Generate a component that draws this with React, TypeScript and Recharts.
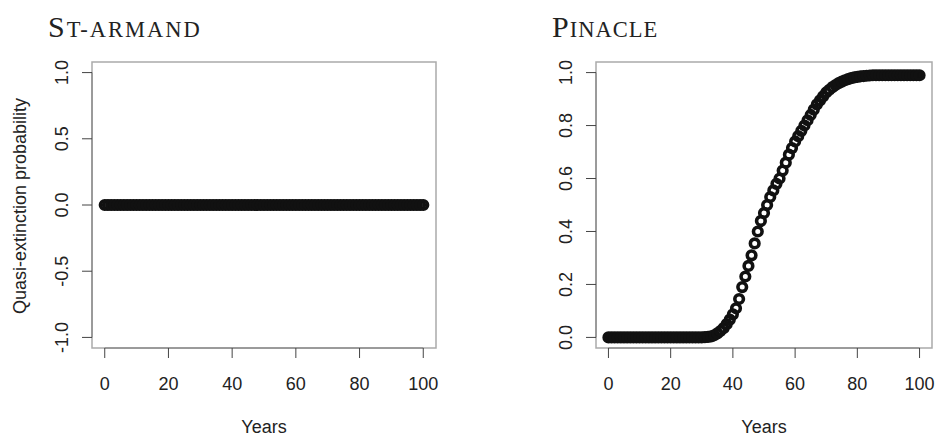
import React from "react";
import {
  ScatterChart,
  Scatter,
  XAxis,
  YAxis,
  ReferenceArea,
  ReferenceLine,
} from "recharts";

// years 0..100 (one point per year)
const years: number[] = Array.from({ length: 101 }, (_, i) => i);

const xTicks = [0, 20, 40, 60, 80, 100];
const stArmandTicks = [-1, -0.5, 0, 0.5, 1];
const pinacleTicks = [0, 0.2, 0.4, 0.6, 0.8, 1];

// St-Armand: flat at zero for the whole run
const stArmand = [
  0, 0, 0, 0, 0, 0, 0, 0, 0, 0,
  0, 0, 0, 0, 0, 0, 0, 0, 0, 0,
  0, 0, 0, 0, 0, 0, 0, 0, 0, 0,
  0, 0, 0, 0, 0, 0, 0, 0, 0, 0,
  0, 0, 0, 0, 0, 0, 0, 0, 0, 0,
  0, 0, 0, 0, 0, 0, 0, 0, 0, 0,
  0, 0, 0, 0, 0, 0, 0, 0, 0, 0,
  0, 0, 0, 0, 0, 0, 0, 0, 0, 0,
  0, 0, 0, 0, 0, 0, 0, 0, 0, 0,
  0, 0, 0, 0, 0, 0, 0, 0, 0, 0,
  0,
];

// Pinacle
const pinacle = [
  0, 0, 0, 0, 0, 0, 0, 0, 0, 0,
  0, 0, 0, 0, 0, 0, 0, 0, 0, 0,
  0, 0, 0, 0, 0, 0, 0, 0, 0, 0,
  0, 0.001, 0.002, 0.004, 0.008, 0.015, 0.024, 0.035, 0.05, 0.067,
  0.087, 0.11, 0.145, 0.19, 0.23, 0.27, 0.31, 0.355, 0.4, 0.44,
  0.47, 0.5, 0.53, 0.555, 0.58, 0.6, 0.63, 0.66, 0.69, 0.715,
  0.74, 0.76, 0.78, 0.8, 0.82, 0.84, 0.86, 0.88, 0.895, 0.91,
  0.925, 0.935, 0.945, 0.953, 0.96, 0.966, 0.971, 0.975, 0.979, 0.982,
  0.984, 0.986, 0.987, 0.988, 0.989, 0.99, 0.99, 0.99, 0.99, 0.99,
  0.99, 0.99, 0.99, 0.99, 0.99, 0.99, 0.99, 0.99, 0.99, 0.99,
  0.99,
];

const SANS = "'Liberation Sans', Arial, Helvetica, sans-serif";
const SERIF = "'Liberation Serif', 'Times New Roman', serif";

// thick open circle, like R's pch=1 with a heavy lwd
const Ring = (p: any) => (
  <circle cx={p.cx} cy={p.cy} r={4.3} fill="none" stroke="#111" strokeWidth={3.6} />
);

const RotTick = (props: any) => {
  const { x, y, payload } = props;
  return (
    <text
      x={x}
      y={y}
      transform={`rotate(-90 ${x} ${y})`}
      textAnchor="middle"
      fontSize={18}
      fill="#222"
      fontFamily={SANS}
    >
      {Number(payload.value).toFixed(1)}
    </text>
  );
};

function Panel({
  values,
  yTicks,
  yDomain,
  yAxisWidth,
  width,
  rightMargin,
}: {
  values: number[];
  yTicks: number[];
  yDomain: [number, number];
  yAxisWidth: number;
  width: number;
  rightMargin: number;
}) {
  const data = years.map((x, i) => ({ x, y: values[i] }));
  return (
    <ScatterChart
      width={width}
      height={436}
      margin={{ top: 62, right: rightMargin, bottom: 0, left: 0 }}
    >
      <XAxis
        type="number"
        dataKey="x"
        domain={[-4, 104]}
        ticks={xTicks}
        allowDataOverflow
        axisLine={false}
        tickSize={10}
        tickMargin={19}
        height={88}
        tickLine={{ stroke: "#444" }}
        tick={{ fontSize: 18, fill: "#222", fontFamily: SANS }}
      />
      <YAxis
        type="number"
        dataKey="y"
        domain={yDomain}
        ticks={yTicks}
        allowDataOverflow
        axisLine={false}
        width={yAxisWidth}
        tickSize={10}
        tickMargin={14}
        tickLine={{ stroke: "#444" }}
        tick={<RotTick />}
      />
      <ReferenceArea
        x1={-4}
        x2={104}
        y1={yDomain[0]}
        y2={yDomain[1]}
        fill="none"
        stroke="#aaa"
        strokeWidth={1.5}
      />
      <ReferenceLine
        segment={[
          { x: 0, y: yDomain[0] },
          { x: 100, y: yDomain[0] },
        ]}
        stroke="#777"
        ifOverflow="visible"
      />
      <ReferenceLine
        segment={[
          { x: -4, y: yTicks[0] },
          { x: -4, y: yTicks[yTicks.length - 1] },
        ]}
        stroke="#777"
        ifOverflow="visible"
      />
      <Scatter data={data} shape={<Ring />} isAnimationActive={false} />
    </ScatterChart>
  );
}

export default function App() {
  return (
    <div
      style={{
        position: "absolute",
        left: 0,
        top: 0,
        width: 941,
        height: 436,
        background: "#fff",
        fontFamily: SANS,
      }}
    >
      <div style={{ position: "absolute", left: 0, top: 0 }}>
        <Panel
          values={stArmand}
          yTicks={stArmandTicks}
          yDomain={[-1.08, 1.08]}
          yAxisWidth={92}
          width={470}
          rightMargin={34}
        />
      </div>
      <div style={{ position: "absolute", left: 470, top: 0 }}>
        <Panel
          values={pinacle}
          yTicks={pinacleTicks}
          yDomain={[-0.04, 1.04]}
          yAxisWidth={126}
          width={471}
          rightMargin={9}
        />
      </div>
      <svg
        width={941}
        height={436}
        style={{ position: "absolute", left: 0, top: 0, pointerEvents: "none" }}
      >
        <text x={48} y={37} fontFamily={SERIF} fill="#222" letterSpacing={2}>
          <tspan fontSize={30}>S</tspan>
          <tspan fontSize={22.5}>T-ARMAND</tspan>
        </text>
        <text x={552} y={37} fontFamily={SERIF} fill="#222" letterSpacing={1}>
          <tspan fontSize={30}>P</tspan>
          <tspan fontSize={22.5}>INACLE</tspan>
        </text>
        <text
          x={26}
          y={206}
          transform="rotate(-90 26 206)"
          textAnchor="middle"
          fontSize={18}
          fill="#222"
          fontFamily={SANS}
        >
          Quasi-extinction probability
        </text>
        <text x={264} y={433} textAnchor="middle" fontSize={18} fill="#222" fontFamily={SANS}>
          Years
        </text>
        <text x={764} y={433} textAnchor="middle" fontSize={18} fill="#222" fontFamily={SANS}>
          Years
        </text>
      </svg>
    </div>
  );
}
